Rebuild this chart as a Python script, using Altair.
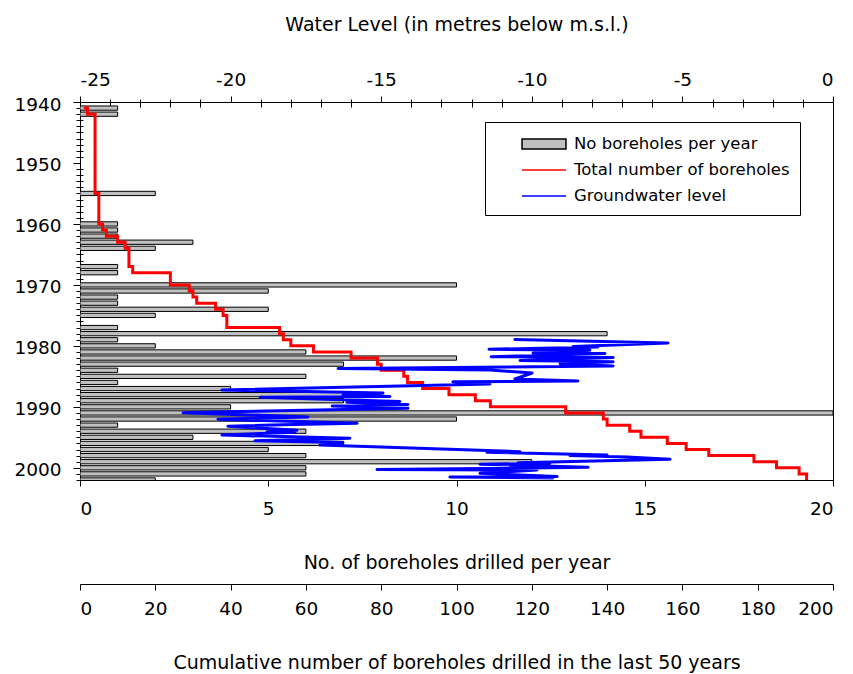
import altair as alt
import pandas as pd

# ---------------- data ----------------
bar_years = [1941, 1942, 1955, 1960, 1961, 1962, 1963, 1964, 1967, 1968,
             1970, 1971, 1972, 1973, 1974, 1975, 1977, 1978, 1979, 1980,
             1981, 1982, 1983, 1984, 1985, 1986, 1987, 1988, 1989, 1990,
             1991, 1992, 1993, 1994, 1995, 1996, 1997, 1998, 1999, 2000,
             2001, 2002]
bar_counts = [1, 1, 2, 1, 1, 1, 3, 2, 1, 1,
              10, 5, 1, 1, 5, 2, 1, 14, 1, 2,
              6, 10, 7, 1, 6, 1, 4, 7, 7, 4,
              20, 10, 1, 6, 3, 7, 5, 6, 12, 6,
              6, 2]

red_rows = [1941, 1941, 1942, 1955, 1960, 1961, 1962, 1963, 1964, 1967,
            1968, 1970, 1971, 1972, 1973, 1974, 1975, 1977, 1978, 1979,
            1980, 1981, 1982, 1983, 1984, 1985, 1986, 1987, 1988, 1989,
            1990, 1991, 1992, 1993, 1994, 1995, 1996, 1997, 1998, 1999,
            2000, 2001, 2002]
red_total = [1, 2, 4, 5, 6, 7, 10, 12, 13, 14,
             24, 29, 30, 31, 36, 38, 39, 53, 54, 56,
             62, 72, 79, 80, 86, 87, 91, 98, 105, 109,
             129, 139, 140, 146, 149, 156, 161, 167, 179, 185,
             191, 193, 193]

blue_date = [1978.95, 1979.53, 1980.10, 1980.18, 1980.56, 1980.71, 1981.17, 1981.25,
             1981.77, 1981.91, 1982.40, 1982.61, 1982.94, 1983.30, 1983.71, 1983.96,
             1984.45, 1985.43, 1985.76, 1985.89, 1986.25, 1987.24, 1987.73, 1988.06,
             1988.30, 1988.42, 1989.12, 1989.24, 1989.61, 1989.86, 1990.24, 1990.96,
             1991.66, 1992.04, 1992.70, 1992.94, 1993.19, 1993.85, 1994.08, 1994.17,
             1994.62, 1995.16, 1995.55, 1995.85, 1996.26, 1997.36, 1997.44, 1997.90,
             1998.00, 1998.23, 1998.60, 1999.16, 1999.26, 1999.42, 1999.92, 2000.28,
             2000.36, 2000.90, 2001.42, 2001.51, 2001.67]
blue_level = [-10.56, -5.48, -8.63, -7.80, -11.42, -8.07, -9.96, -7.57,
              -11.35, -7.30, -10.39, -7.30, -9.06, -7.30, -16.43, -11.39,
              -9.99, -10.56, -8.47, -12.62, -11.39, -20.29, -14.94, -16.27,
              -14.71, -19.02, -14.38, -16.14, -14.11, -16.63, -14.11, -21.58,
              -17.43, -20.42, -15.80, -18.29, -20.09, -17.80, -18.79, -17.86,
              -20.29, -16.04, -19.19, -16.27, -17.03, -10.39, -11.49, -7.50,
              -8.73, -6.84, -5.41, -10.46, -9.40, -11.72, -8.13, -15.14,
              -9.83, -11.72, -9.16, -12.72, -9.30]

series_names = ["No boreholes per year", "Total number of boreholes", "Groundwater level"]

year_ticks = list(range(1940, 2001, 10))
year_minor = [y for y in range(1941, 2003) if y % 10 != 0]
count_ticks = [0, 5, 10, 15, 20]
total_ticks = list(range(0, 201, 20))
level_ticks = [-25, -20, -15, -10, -5, 0]
level_minor = [v for v in range(-24, 0) if v % 5 != 0]

FONT = "DejaVu Sans"
GREY = "#c0c0c0"
RED = "#ff0000"
BLUE = "#0000ff"
RECT_PATH = "M-2,-0.45H2V0.45H-2Z"
LINE_PATH = "M-2,0H2"

bars_df = pd.DataFrame({"year": bar_years, "n": bar_counts})
red_df = pd.DataFrame({"k": list(range(len(red_rows))), "row": red_rows, "total": red_total})
blue_df = pd.DataFrame({"k": list(range(len(blue_date))), "date": blue_date, "level": blue_level})
legend_df = pd.DataFrame({"value": series_names})

yscale = alt.Scale(domain=[1940, 2002], reverse=True, nice=False, zero=False)

bars = alt.Chart(bars_df).transform_calculate(
    y0="datum.year - 0.35", y1="datum.year + 0.35"
).mark_bar(fill=GREY, stroke="black", strokeWidth=1, clip=True).encode(
    x=alt.X("n:Q", scale=alt.Scale(domain=[0, 20], nice=False),
            axis=alt.Axis(orient="bottom", values=count_ticks, tickSize=6,
                          labelPadding=13, title="No. of boreholes drilled per year",
                          titlePadding=36)),
    x2=alt.datum(0),
    y=alt.Y("y0:Q", scale=yscale,
            axis=alt.Axis(orient="left", values=year_ticks, format="d", tickSize=7,
                          labelPadding=12, labelOffset=2, title=None)),
    y2="y1:Q",
)

red = alt.Chart(red_df).mark_line(interpolate="step-before", strokeWidth=3, color=RED,
                                  clip=True).encode(
    x=alt.X("total:Q", scale=alt.Scale(domain=[0, 200], nice=False),
            axis=alt.Axis(orient="bottom", offset=104, values=total_ticks, tickSize=6,
                          labelPadding=9,
                          title="Cumulative number of boreholes drilled in the last 50 years",
                          titlePadding=36)),
    y=alt.Y("row:Q", scale=yscale,
            axis=alt.Axis(orient="left", values=year_minor, labels=False, domain=False,
                          tickSize=7, offset=-3, title=None)),
    order="k:Q",
)

blue = alt.Chart(blue_df).mark_line(strokeWidth=3, strokeCap="round", strokeJoin="round",
                                    color=BLUE, clip=True).encode(
    x=alt.X("level:Q", scale=alt.Scale(domain=[-25, 0], nice=False),
            axis=alt.Axis(orient="top", values=level_ticks, tickSize=6, labelPadding=7,
                          labelExpr="datum.value + ''",
                          title="Water Level (in metres below m.s.l.)", titlePadding=36)),
    y=alt.Y("date:Q", scale=yscale, axis=None),
    order="k:Q",
)

minor_top = alt.Chart(blue_df).mark_line(opacity=0).encode(
    x=alt.X("level:Q", scale=alt.Scale(domain=[-25, 0], nice=False),
            axis=alt.Axis(orient="top", values=level_minor, labels=False, domain=False,
                          tickSize=8, offset=-5, title=None)),
    y=alt.Y("date:Q", scale=yscale, axis=None),
    order="k:Q",
)

# legend carrier: invisible clipped points whose shape legend shows the three series
legend_layer = alt.Chart(legend_df).mark_point(
    filled=True, opacity=1, size=484, clip=True,
    fill={"expr": f"datum.value === '{series_names[0]}' ? '{GREY}' : 'transparent'"},
    stroke={"expr": f"datum.value === '{series_names[0]}' ? 'black' : (datum.value === '{series_names[1]}' ? '{RED}' : '{BLUE}')"},
    strokeWidth={"expr": f"datum.value === '{series_names[0]}' ? 1 : 3"},
).encode(
    x=alt.value(-500),
    y=alt.value(-500),
    shape=alt.Shape("value:N",
                    scale=alt.Scale(domain=series_names, range=[RECT_PATH, LINE_PATH, LINE_PATH]),
                    legend=alt.Legend(
                        orient="none", legendX=405, legendY=20,
                        title=None,
                        fillColor="white", strokeColor="black", padding=10,
                        labelFont=FONT, labelFontSize=16.5, labelColor="black",
                        labelLimit=500,
                        symbolSize=484, symbolOpacity=1, symbolOffset=37,
                        rowPadding=5, labelOffset=18,
                    )),
)

chart = alt.layer(bars, red, blue, minor_top, legend_layer).resolve_scale(
    x="independent", y="shared"
).resolve_axis(
    x="independent", y="independent"
).properties(
    width=753, height=378,
    padding={"left": 80, "top": 102, "right": 20, "bottom": 194},
    autosize=alt.AutoSizeParams(type="none"),
    background="white",
).configure_view(
    stroke="black", strokeWidth=1
).configure_axis(
    labelFont=FONT, titleFont=FONT, labelFontSize=18.5, titleFontSize=19,
    titleFontWeight="normal", labelColor="black", titleColor="black",
    tickColor="black", domainColor="black", grid=False,
)

chart.save("out.html", embed_options={"renderer": "svg", "actions": False})
